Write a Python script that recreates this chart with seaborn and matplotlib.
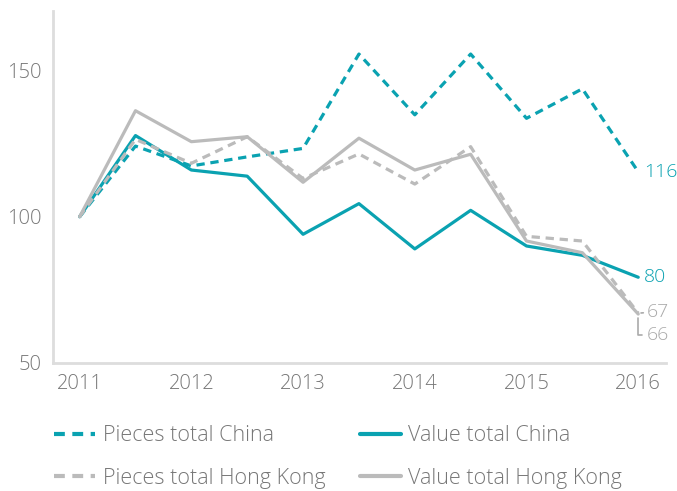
import seaborn as sns
import matplotlib.pyplot as plt
import pandas as pd

years = [2011, 2011.5, 2012, 2012.5, 2013, 2013.5, 2014, 2014.5, 2015, 2015.5, 2016]
pieces_china = [100, 124.2, 117.4, 120.5, 123.4, 155.7, 134.9, 155.7, 133.7, 143.8, 115.4]
value_china = [100, 127.8, 116.0, 113.9, 94.0, 104.5, 89.0, 102.2, 90.0, 86.8, 79.3]
pieces_hk = [100, 126.5, 118.3, 127.4, 113.1, 121.5, 111.2, 124.0, 93.3, 91.7, 67.0]
value_hk = [100, 136.3, 125.7, 127.4, 111.8, 126.9, 116.0, 121.4, 91.7, 87.7, 66.7]
end_labels = {'Pieces total China': '116', 'Value total China': '80',
              'Pieces total Hong Kong': '67', 'Value total Hong Kong': '66'}

TEAL = '#0aa2b1'
GREY = '#bbbbbb'

series = {'Pieces total China': pieces_china,
          'Value total China': value_china,
          'Pieces total Hong Kong': pieces_hk,
          'Value total Hong Kong': value_hk}
df = pd.concat([pd.DataFrame({'year': years, 'index': v, 'series': k})
                for k, v in series.items()], ignore_index=True)

sns.set_style('white')
plt.rcParams['font.family'] = ['Open Sans', 'DejaVu Sans']
plt.rcParams['font.weight'] = 'light'

fig = plt.figure(figsize=(6.77, 4.91), dpi=100)
ax = fig.add_axes([0.078, 0.261, 0.906, 0.717])

palette = {'Pieces total China': TEAL, 'Value total China': TEAL,
           'Pieces total Hong Kong': GREY, 'Value total Hong Kong': GREY}
dashes = {'Pieces total China': (2.6, 1.8), 'Value total China': '',
          'Pieces total Hong Kong': (2.6, 1.8), 'Value total Hong Kong': ''}
sns.lineplot(data=df, x='year', y='index', hue='series', style='series',
             palette=palette, dashes=dashes, linewidth=2.3, ax=ax, legend=True)

ax.set_xlim(2010.76, 2016.25)
ax.set_ylim(50, 170.5)
ax.set_yticks([50, 100, 150])
ax.set_xticks([2011, 2012, 2013, 2014, 2015, 2016])
ax.set_xlabel('')
ax.set_ylabel('')
for s in ['top', 'right']:
    ax.spines[s].set_visible(False)
for s in ['left', 'bottom']:
    ax.spines[s].set_color('#dddddd')
    ax.spines[s].set_linewidth(2)
ax.tick_params(axis='both', length=0, labelsize=14.5, colors='#777777', pad=8)

# end labels
lab_kw = dict(textcoords='offset points', va='center', fontsize=14)
ax.annotate(end_labels['Pieces total China'], (years[-1], pieces_china[-1]),
            xytext=(4, 0), color=TEAL, **lab_kw)
ax.annotate(end_labels['Value total China'], (years[-1], value_china[-1]),
            xytext=(4, 0), color=TEAL, **lab_kw)
ax.annotate(end_labels['Pieces total Hong Kong'], (years[-1], pieces_hk[-1]),
            xytext=(6, 1), color='#aaaaaa',
            arrowprops=dict(arrowstyle='-', color='#aaaaaa', lw=1.2, shrinkA=0, shrinkB=2),
            **lab_kw)
ax.annotate(end_labels['Value total Hong Kong'], (years[-1], value_hk[-1]),
            xytext=(6, -15), color='#aaaaaa',
            arrowprops=dict(arrowstyle='-', color='#aaaaaa', lw=1.2, shrinkA=1, shrinkB=3,
                            connectionstyle='angle,angleA=0,angleB=90,rad=0'),
            **lab_kw)

handles, labels = ax.get_legend_handles_labels()
ax.get_legend().remove()
for h in handles:
    h.set_linewidth(3)
order = [0, 2, 1, 3]
fig.legend([handles[i] for i in order], [labels[i] for i in order],
           loc='upper left', bbox_to_anchor=(0.08, 0.134), ncol=2, frameon=False,
           fontsize=15.5, labelcolor='#777777', handlelength=1.9, handletextpad=0.35,
           columnspacing=1.6, labelspacing=1.0, borderaxespad=0, borderpad=0)

fig.savefig('out.png', dpi=100)
